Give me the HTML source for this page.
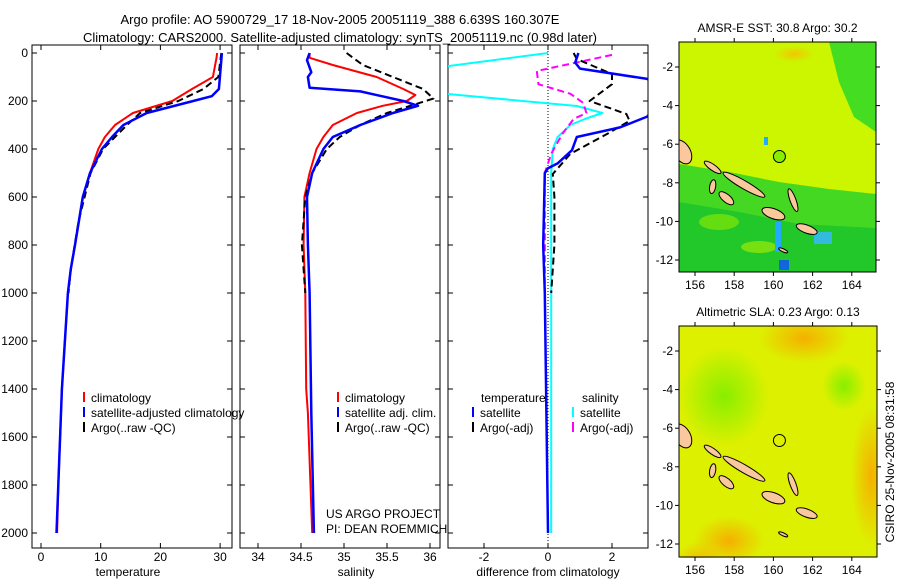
<!DOCTYPE html>
<html><head><meta charset="utf-8"><style>
html,body{margin:0;padding:0;background:#fff;}
svg{display:block;font-family:"Liberation Sans",sans-serif;}
</style></head><body>
<svg id="fig" width="900" height="580" viewBox="0 0 900 580" xmlns="http://www.w3.org/2000/svg">
<defs>
<clipPath id="c1"><rect x="32" y="45" width="200" height="503"/></clipPath>
<clipPath id="c2"><rect x="240" y="45" width="200" height="503"/></clipPath>
<clipPath id="c3"><rect x="448" y="45" width="200" height="503"/></clipPath>
<clipPath id="cm1"><rect x="0" y="0" width="197" height="230"/></clipPath>
<clipPath id="cm2"><rect x="0" y="0" width="198" height="232"/></clipPath>
<radialGradient id="og"><stop offset="0" stop-color="#f5b000"/><stop offset="1" stop-color="#f5b000" stop-opacity="0"/></radialGradient>
<radialGradient id="gg"><stop offset="0" stop-color="#88ee00"/><stop offset="1" stop-color="#88ee00" stop-opacity="0"/></radialGradient>
<radialGradient id="og1"><stop offset="0" stop-color="#f0c800"/><stop offset="1" stop-color="#f0c800" stop-opacity="0"/></radialGradient>
</defs>
<text x="340" y="24" font-size="13" text-anchor="middle">Argo profile: AO 5900729_17 18-Nov-2005 20051119_388 6.639S 160.307E</text>
<text x="340" y="42" font-size="13" text-anchor="middle">Climatology: CARS2000. Satellite-adjusted climatology: synTS_20051119.nc (0.98d later)</text>
<g id="axes"></g>
<g id="maps"></g>
<text transform="translate(894,462) rotate(-90)" font-size="12" text-anchor="middle">CSIRO 25-Nov-2005 08:31:58</text>
</svg>
<script>
// ---- data (depth m, value) ----
const tempClimDepth = [0,20,100,150,200,250,300,350,400,500,600,800,900,1000,1200,1400,1600,1800,2000];
const tempClim =      [29.5,29.4,28.8,25.3,22,15.4,12.4,10.7,9.6,8.2,7,5.7,5,4.5,4,3.5,3.2,2.9,2.7];
const tempSatDepth = [0,150,180,200,250,300,350,400,500,600,800,900,1000,1200,1400,1600,1800,2000];
const tempSat =      [30.3,29.8,28.6,25.5,17.7,13.8,11.9,10.2,8.2,7,5.7,5,4.5,4,3.5,3.2,2.9,2.6];
const tempArgoDepth = [0,100,150,200,250,300,350,400,500,700,900,1000];
const tempArgo =      [30.2,29.7,27.2,23,16.6,14.4,12.4,10.4,8.3,6.3,5.0,4.6];

const salClimDepth = [0,20,50,100,150,175,200,220,250,300,350,400,500,600,800,1000,1400,1500,2000];
const salClim =      [34.6,34.6,34.87,35.38,35.69,35.83,35.73,35.45,35.15,34.87,34.76,34.68,34.6,34.54,34.53,34.55,34.56,34.58,34.63];
const salSatDepth = [0,30,80,100,145,160,200,220,250,300,350,400,500,600,800,1000,1500,2000];
const salSat =      [34.6,34.57,34.62,34.58,34.6,35.19,35.69,35.86,35.57,35.19,34.87,34.76,34.63,34.57,34.58,34.6,34.62,34.65];
const salArgoDepth = [0,50,100,150,190,220,250,300,350,400,500,600,800,1000];
const salArgo =      [35.03,35.22,35.57,35.92,36.04,35.77,35.5,35.19,34.95,34.8,34.63,34.55,34.51,34.55];

const dTempSatDepth = [0,40,65,108,150,200,265,310,350,405,460,480,500,800,1000,1500,2000];
const dTempSat =      [0.95,0.85,1.0,3.1,3.5,3.5,3.1,2.25,0.9,0.75,0.3,0,-0.1,-0.15,-0.1,-0.05,0];
const dTempArgoDepth = [0,25,88,130,200,254,283,337,420,504,600,800,1000];
const dTempArgo =      [0.8,0.9,2.0,2.0,1.3,2.45,2.55,1.85,0.7,0.15,0.2,0.2,0.1];
const dSalSatDepth = [0,70,160,221,250,275,300,350,400,500,1000,2000];
const dSalSat =      [0,-4,-4,0.9,1.7,1.15,0.7,0.3,0.15,0.1,0.1,0.1];
const dSalArgoDepth = [8,75,130,170,208,250,275,337,420,500,800,1000];
const dSalArgo =      [2.0,-0.35,-0.3,0.7,1.1,1.2,0.8,0.45,0.1,-0.1,-0.1,-0.1];

const depthTicks = [0,200,400,600,800,1000,1200,1400,1600,1800,2000];
const tempTicks = [0,10,20,30];
const salTicks = [34,34.5,35,35.5,36];
const salTickLabels = ["34","34.5","35","35.5","36"];
const diffTicks = [-2,0,2];

// ---- scales ----
const yD = d => 53 + d*0.24;
const xT = t => 41 + t*5.97;
const xS = s => 301 + (s-34.5)*86;
const xDf = v => 548 + v*32;

const NS = "http://www.w3.org/2000/svg";
function mk(tag, attrs, parent){const e=document.createElementNS(NS,tag);for(const k in attrs)e.setAttribute(k,attrs[k]);parent.appendChild(e);return e;}
const axes = document.getElementById('axes');

function panel(x0, name, xticks, xfun, labels, xlabel, showY){
  const g = mk('g',{},axes);
  
  
  const r = mk('rect',{x:x0,y:45,width:200,height:503,fill:'none',stroke:'#000','stroke-width':1},g);
  
  
  depthTicks.forEach(d=>{
    const y=yD(d);
    mk('line',{x1:x0,x2:x0+5,y1:y,y2:y,stroke:'#000'},g);
    mk('line',{x1:x0+200,x2:x0+195,y1:y,y2:y,stroke:'#000'},g);
    if(showY){const t=mk('text',{x:x0-4,y:y+4,'font-size':12,'text-anchor':'end'},g);t.textContent=d;
      
      }
  });
  xticks.forEach((v,i)=>{
    const x=xfun(v);
    mk('line',{x1:x,x2:x,y1:548,y2:543,stroke:'#000'},g);
    mk('line',{x1:x,x2:x,y1:45,y2:50,stroke:'#000'},g);
    const t=mk('text',{x:x,y:561,'font-size':12,'text-anchor':'middle'},g);t.textContent=labels[i];
    
    
  });
  const xl=mk('text',{x:x0+100-(name==='temperature'?4:(name==='salinity'?-16:0)),y:576,'font-size':12,'text-anchor':'middle'},g);
  xl.textContent=xlabel;
  
  
  return g;
}
function line(g, depths, vals, xfun, color, w, dash, clip, nm){
  const p=depths.map((d,i)=>xfun(vals[i]).toFixed(1)+','+yD(d).toFixed(1)).join(' ');
  const a={points:p,fill:'none',stroke:color,'stroke-width':w,'clip-path':'url(#'+clip+')','stroke-linejoin':'round'};
  if(dash)a['stroke-dasharray']=dash;
  const e=mk('polyline',a,g);
  
  
}
function legend(g, x, y, color, label, nm){
  mk('line',{x1:x,x2:x,y1:y-10,y2:y,stroke:color,'stroke-width':2},g);
  const t=mk('text',{x:x+7,y:y,'font-size':12},g);t.textContent=label;
  
  
}

const g1=panel(32,'temperature',tempTicks,xT,tempTicks.map(String),'temperature',true);
line(g1,tempClimDepth,tempClim,xT,'#ff0000',2,null,'c1','temp-climatology-line');
line(g1,tempArgoDepth,tempArgo,xT,'#000',2,'7,4','c1','temp-argo-line');
line(g1,tempSatDepth,tempSat,xT,'#0000ff',2.5,null,'c1','temp-satellite-line');
legend(g1,84,402,'#ff0000','climatology','legend-climatology');
legend(g1,84,417,'#0000ff','satellite-adjusted climatology','legend-satellite');
legend(g1,84,432,'#000','Argo(..raw -QC)','legend-argo');

const g2=panel(240,'salinity',salTicks,xS,salTickLabels,'salinity',false);
line(g2,salClimDepth,salClim,xS,'#ff0000',2,null,'c2','sal-climatology-line');
line(g2,salArgoDepth,salArgo,xS,'#000',2,'7,4','c2','sal-argo-line');
line(g2,salSatDepth,salSat,xS,'#0000ff',2.5,null,'c2','sal-satellite-line');
legend(g2,338,402,'#ff0000','climatology','legend-sal-climatology');
legend(g2,338,417,'#0000ff','satellite adj. clim.','legend-sal-satellite');
legend(g2,338,432,'#000','Argo(..raw -QC)','legend-sal-argo');
const n1=mk('text',{x:326,y:518,'font-size':12},g2);n1.textContent='US ARGO PROJECT';


const n2=mk('text',{x:326,y:533,'font-size':12},g2);n2.textContent='PI: DEAN ROEMMICH';



const g3=panel(448,'difference',diffTicks,xDf,diffTicks.map(String),'difference from climatology',false);
mk('line',{x1:548,x2:548,y1:45,y2:548,stroke:'#000','stroke-dasharray':'1,2'},g3);
line(g3,dSalSatDepth,dSalSat,xDf,'#00ffff',2,null,'c3','diff-sal-satellite-line');
line(g3,dSalArgoDepth,dSalArgo,xDf,'#ff00ff',2,'7,4','c3','diff-sal-argo-line');
line(g3,dTempArgoDepth,dTempArgo,xDf,'#000',2,'7,4','c3','diff-temp-argo-line');
line(g3,dTempSatDepth,dTempSat,xDf,'#0000ff',2.5,null,'c3','diff-temp-satellite-line');
const lt=mk('text',{x:481,y:402,'font-size':12},g3);lt.textContent='temperature';


const ls=mk('text',{x:582,y:402,'font-size':12},g3);ls.textContent='salinity';


legend(g3,473,417,'#0000ff','satellite','legend-diff-temp-sat');
legend(g3,473,432,'#000','Argo(-adj)','legend-diff-temp-argo');
legend(g3,573,417,'#00ffff','satellite','legend-diff-sal-sat');
legend(g3,573,432,'#ff00ff','Argo(-adj)','legend-diff-sal-argo');

// ---- maps ----
const maps=document.getElementById('maps');
const mapLonTicks=[156,158,160,162,164];
const mapLatTicks=[-2,-4,-6,-8,-10,-12];
const floatLon=160.307, floatLat=-6.639;
const islands=[ // lon, lat, rx(px), ry(px), angle
 [155.35,-6.4,8,13,-30],[156.9,-7.2,10,3,35],[158.5,-8.1,24,4,30],[156.9,-8.2,3,7,10],
 [157.6,-8.8,9,4,40],[160.0,-9.6,12,5,20],[161.0,-8.9,3,12,-20],[161.7,-10.4,11,4,20],[160.5,-11.5,5,1.5,25]
];
function mapPanel(x0,y0,w,h,title,nm,clip,kind){
  const g=mk('g',{transform:'translate('+x0+','+y0+')'},maps);
  
  
  const lx=lon=>16+(lon-156)*19.6;
  const ly=lat=>25+(-2-lat)*19.3;
  const inner=mk('g',{'clip-path':'url(#'+clip+')'},g);
  if(kind===1){
    mk('rect',{x:0,y:0,width:w,height:h,fill:'#ccf500'},inner);
    mk('polygon',{points:'0,122 50,130 100,140 150,147 197,152 197,'+h+' 0,'+h,fill:'#44d822'},inner);
    mk('polygon',{points:'0,160 60,170 120,182 197,186 197,'+h+' 0,'+h,fill:'#22c82a'},inner);
    mk('polygon',{points:'150,0 197,0 197,90 175,75 160,40',fill:'#44dd22'},inner);
    mk('ellipse',{cx:40,cy:180,rx:20,ry:8,fill:'#66dd11'},inner);
    mk('ellipse',{cx:80,cy:205,rx:18,ry:6,fill:'#77e011'},inner);
    mk('ellipse',{cx:115,cy:12,rx:20,ry:8,fill:'url(#og1)'},inner);
    mk('rect',{x:96,y:180,width:6,height:30,fill:'#22aaff'},inner);
    mk('rect',{x:135,y:190,width:18,height:12,fill:'#33bbdd'},inner);
    mk('rect',{x:100,y:218,width:10,height:10,fill:'#1166dd'},inner);
    mk('rect',{x:85,y:95,width:4,height:8,fill:'#22aaff'},inner);
  } else {
    mk('rect',{x:0,y:0,width:w,height:h,fill:'#ddf000'},inner);
    mk('ellipse',{cx:45,cy:70,rx:45,ry:50,fill:'url(#gg)'},inner);
    mk('ellipse',{cx:165,cy:60,rx:22,ry:25,fill:'url(#gg)'},inner);
    mk('ellipse',{cx:125,cy:12,rx:45,ry:25,fill:'url(#og)'},inner);
    mk('ellipse',{cx:192,cy:150,rx:20,ry:70,fill:'url(#og)'},inner);
    mk('ellipse',{cx:50,cy:215,rx:35,ry:25,fill:'url(#og)'},inner);
    mk('ellipse',{cx:20,cy:240,rx:25,ry:25,fill:'url(#og)'},inner);
  }
  islands.forEach(s=>{
    const e=mk('ellipse',{cx:lx(s[0]),cy:ly(s[1]),rx:s[2],ry:s[3],fill:'#fbc89e',stroke:'#000','stroke-width':1,transform:'rotate('+s[4]+' '+lx(s[0])+' '+ly(s[1])+')'},inner);
    
    
  });
  const c=mk('circle',{cx:lx(floatLon),cy:ly(floatLat),r:6,fill:kind===1?'#88ee00':'none',stroke:'#000'},inner);
  
  
  mk('rect',{x:0,y:0,width:w,height:h,fill:'none',stroke:'#000'},g);
  mapLonTicks.forEach(l=>{
    const x=lx(l);
    mk('line',{x1:x,x2:x,y1:0,y2:-4,stroke:'#000'},g);
    mk('line',{x1:x,x2:x,y1:h,y2:h+4,stroke:'#000'},g);
    const t=mk('text',{x:x,y:h+17,'font-size':12,'text-anchor':'middle'},g);t.textContent=l;
    
    
  });
  mapLatTicks.forEach(l=>{
    const y=ly(l);
    mk('line',{x1:0,x2:-4,y1:y,y2:y,stroke:'#000'},g);
    mk('line',{x1:w,x2:w+4,y1:y,y2:y,stroke:'#000'},g);
    const t=mk('text',{x:-6,y:y+4,'font-size':12,'text-anchor':'end'},g);t.textContent=l;
    
    
  });
  const tt=mk('text',{x:w/2,y:-10,'font-size':12,'text-anchor':'middle'},g);tt.textContent=title;
  
  
}
mapPanel(679,42,197,230,'AMSR-E SST: 30.8 Argo: 30.2','sst-map','cm1',1);
mapPanel(679,326,198,231,'Altimetric SLA: 0.23 Argo: 0.13','sla-map','cm2',2);
</script>
</body></html>
